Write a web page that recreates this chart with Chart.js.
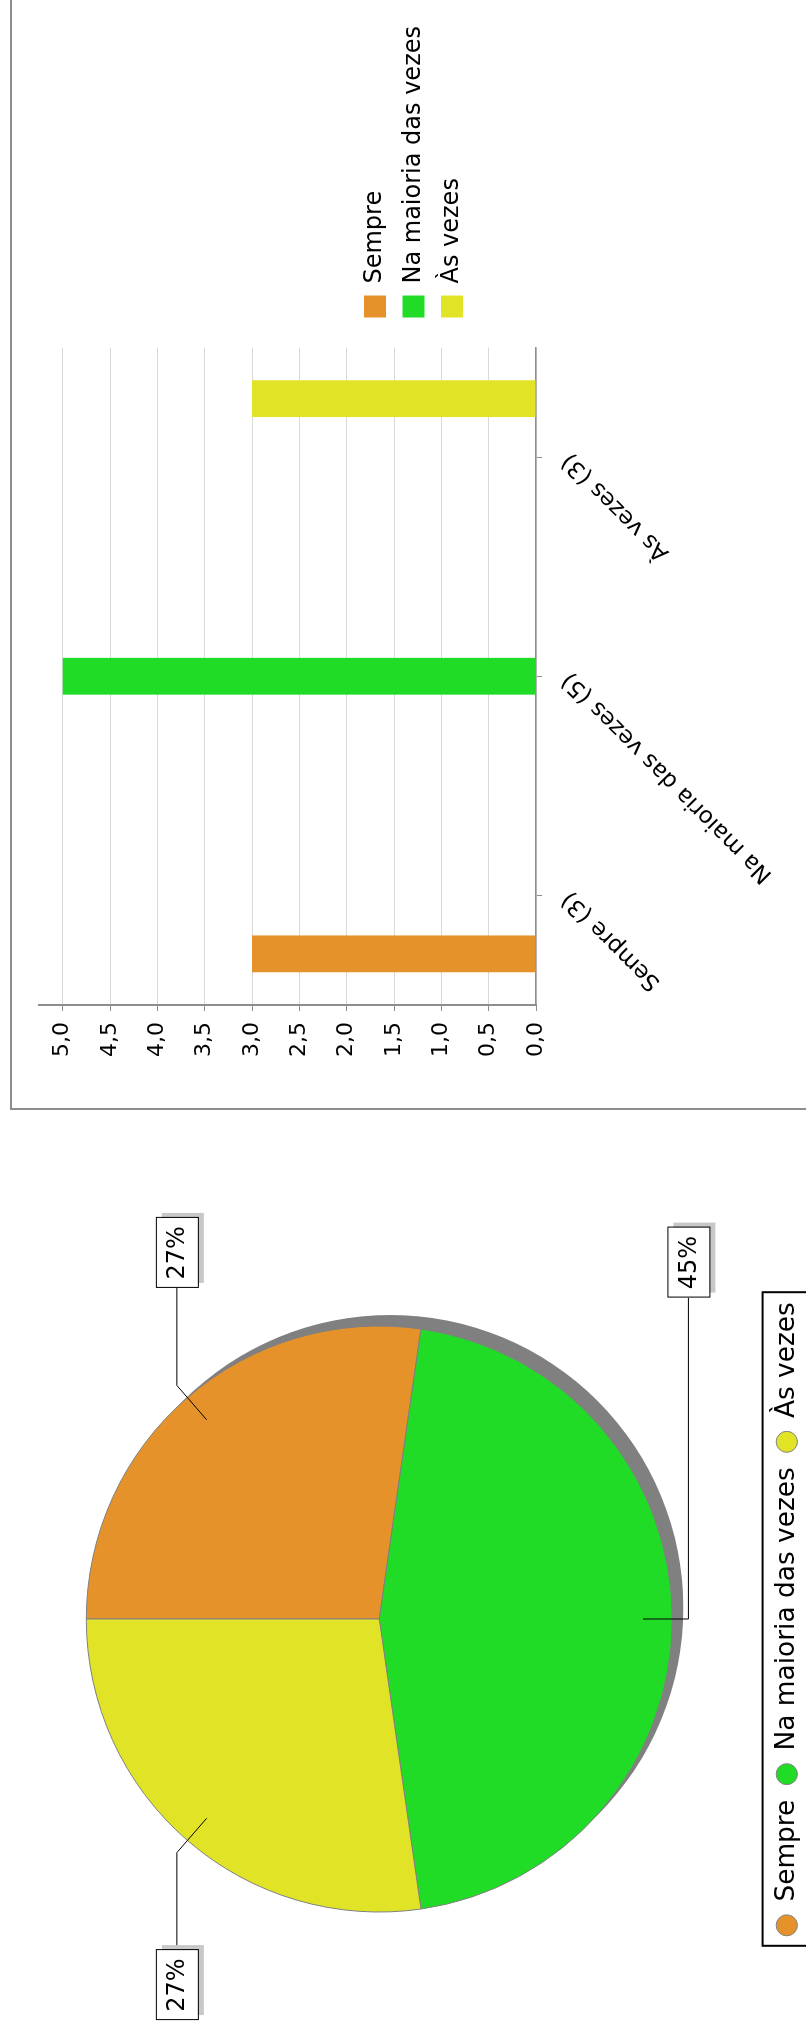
<!DOCTYPE html>
<html lang="pt">
<head>
<meta charset="UTF-8">
<title>Frequência</title>
<script src="https://cdn.jsdelivr.net/npm/chart.js"></script>
<style>
  html, body { margin: 0; padding: 0; background: #fff; overflow: hidden; }
  body { width: 806px; height: 2029px; position: relative; }
  /* the whole sheet is laid out landscape and turned a quarter to the left */
  #page { position: absolute; left: 0; top: 0; width: 2029px; height: 806px; overflow: hidden;
          transform-origin: 0 0; transform: translate(0, 2029px) rotate(-90deg); background: #fff; }
  #pieCanvas { position: absolute; left: 0; top: 0; }
  #barBox { position: absolute; left: 919px; top: 10px; width: 1300px; height: 1000px; border: 2px solid #8e8e8e; }
  #barCanvas { position: absolute; left: 0; top: 0; }
</style>
</head>
<body>
<div id="page">
  <canvas id="pieCanvas" width="820" height="810"></canvas>
  <div id="barBox">
    <canvas id="barCanvas" width="1092" height="794"></canvas>
  </div>
</div>

<script>
// data
const categories = ['Sempre', 'Na maioria das vezes', 'Às vezes'];
const counts = [3, 5, 3];
const colors = ['#E5922B', '#21DC26', '#E1E426'];
const barLabels = categories.map((c, i) => c + ' (' + counts[i] + ')');

Chart.defaults.font.family = "'DejaVu Sans', sans-serif";
Chart.defaults.color = '#000';

// gray disc behind the pie
const pieShadow = {
    id: 'pieShadow',
    beforeDatasetsDraw(chart) {
        const a = chart.getDatasetMeta(0).data[0];
        const ctx = chart.ctx;
        ctx.save();
        ctx.fillStyle = '#808080';
        ctx.beginPath();
        ctx.arc(a.x + 11, a.y + 11, a.outerRadius, 0, Math.PI * 2);
        ctx.fill();
        ctx.restore();
    }
};

// percentage boxes with leader lines
const pieLabels = {
    id: 'pieLabels',
    afterDatasetsDraw(chart) {
        const ctx = chart.ctx;
        const meta = chart.getDatasetMeta(0);
        const total = counts.reduce((s, v) => s + v, 0);
        meta.data.forEach((arc, i) => {
            const mid = (arc.startAngle + arc.endAngle) / 2;
            const r = arc.outerRadius;
            const cos = Math.cos(mid), sin = Math.sin(mid);
            const ax = arc.x + cos * r * 0.9, ay = arc.y + sin * r * 0.9;
            const ex = arc.x + cos * r * 1.055, ey = arc.y + sin * r * 1.055;
            const side = cos < -0.2 ? -1 : 1;
            const reach = Math.abs(cos) < 0.2 ? r * 1.097 : r * 1.13;
            const edge = arc.x + side * reach;
            const bw = 70, bh = 42;
            const bx = side > 0 ? edge : edge - bw;
            const by = ey - bh / 2;

            ctx.save();
            ctx.strokeStyle = '#000';
            ctx.lineWidth = 1;
            ctx.beginPath();
            ctx.moveTo(ax, ay);
            ctx.lineTo(ex, ey);
            ctx.lineTo(edge, ey);
            ctx.stroke();

            ctx.fillStyle = '#c8c8c8';
            ctx.fillRect(bx + 5, by + 6, bw, bh);
            ctx.fillStyle = '#fff';
            ctx.fillRect(bx, by, bw, bh);
            ctx.strokeRect(bx + 0.5, by + 0.5, bw, bh);

            ctx.fillStyle = '#000';
            ctx.font = "24px 'DejaVu Sans', sans-serif";
            ctx.textAlign = 'center';
            ctx.textBaseline = 'middle';
            ctx.fillText(Math.round(counts[i] / total * 100) + '%', bx + bw / 2, by + bh / 2 + 1);
            ctx.restore();
        });
    }
};

// black frame round the pie legend
const legendFrame = {
    id: 'legendFrame',
    afterDraw(chart) {
        const lg = chart.legend;
        const hb = lg.legendHitBoxes;
        const left = Math.min(...hb.map(h => h.left)) - 10;
        const right = Math.max(...hb.map(h => h.left + h.width)) + 10;
        const ctx = chart.ctx;
        ctx.save();
        ctx.strokeStyle = '#000';
        ctx.lineWidth = 2;
        ctx.strokeRect(left, lg.top + 4, right - left, 200);
        ctx.restore();
    }
};

new Chart(document.getElementById('pieCanvas'), {
    type: 'pie',
    data: {
        labels: categories,
        datasets: [{
            data: counts,
            backgroundColor: colors,
            borderColor: '#808080',
            borderWidth: 1,
            radius: 293
        }]
    },
    options: {
        responsive: false,
        animation: false,
        devicePixelRatio: 1,
        events: [],
        layout: { padding: 0 },
        plugins: {
            legend: {
                position: 'bottom',
                labels: {
                    usePointStyle: true,
                    pointStyle: 'circle',
                    pointStyleWidth: 21,
                    boxHeight: 15,
                    padding: 15,
                    color: '#000',
                    font: { size: 26.4 }
                }
            },
            tooltip: { enabled: false }
        }
    },
    plugins: [pieShadow, pieLabels, legendFrame]
});

// bar chart: one dataset per answer so each bar keeps its own slot
const barSets = categories.map((c, i) => ({
    label: c,
    data: counts.map((v, j) => (j === i ? v : null)),
    backgroundColor: colors[i],
    categoryPercentage: 0.8,
    barPercentage: 0.63
}));

new Chart(document.getElementById('barCanvas'), {
    type: 'bar',
    data: { labels: barLabels, datasets: barSets },
    options: {
        responsive: false,
        animation: false,
        devicePixelRatio: 1,
        events: [],
        layout: { padding: { top: 27, bottom: 18, left: 0, right: 0 } },
        plugins: {
            legend: {
                position: 'right',
                align: 'center',
                maxWidth: 400,
                labels: {
                    boxWidth: 22,
                    boxHeight: 22,
                    padding: 14.5,
                    color: '#000',
                    font: { size: 24 }
                }
            },
            tooltip: { enabled: false }
        },
        scales: {
            x: {
                grid: { offset: false, drawOnChartArea: false, tickLength: 6, tickColor: '#8e8e8e' },
                border: { color: '#8e8e8e', width: 1.5 },
                ticks: { minRotation: 45, maxRotation: 45, padding: 14, color: '#000', font: { size: 23 } },
                afterFit: s => { s.height = 252; }
            },
            y: {
                min: 0,
                max: 5.25,
                ticks: {
                    stepSize: 0.5,
                    includeBounds: false,
                    padding: 11,
                    color: '#000',
                    font: { size: 22 },
                    callback: v => v.toFixed(1).replace('.', ',')
                },
                grid: { color: '#d9d9d9', tickLength: 6, tickColor: '#8e8e8e' },
                border: { color: '#8e8e8e', width: 2 },
                afterBuildTicks: s => { s.ticks = s.ticks.filter(t => t.value <= 5.001); },
                afterFit: s => { s.width = 103; }
            },
            gap: {
                type: 'linear',
                position: 'right',
                grid: { display: false },
                border: { display: false },
                ticks: { display: false },
                afterFit: s => { s.width = 15.5; }
            }
        }
    }
});
</script>
</body>
</html>
